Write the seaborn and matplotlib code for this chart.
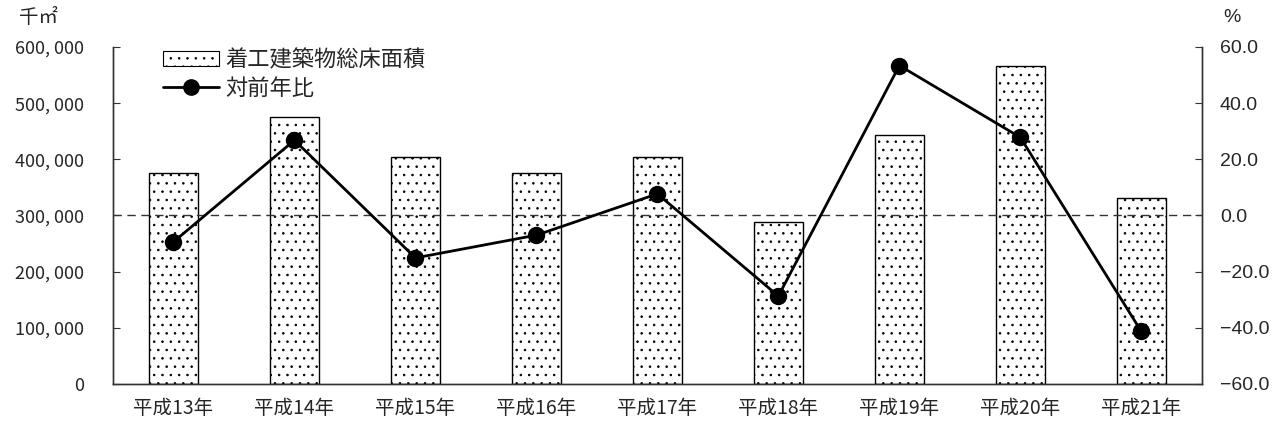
import numpy as np
import pandas as pd
import seaborn as sns
from matplotlib import pyplot as plt
from matplotlib.patches import Patch
from matplotlib.lines import Line2D
from matplotlib.ticker import FuncFormatter

years = ["平成13年", "平成14年", "平成15年", "平成16年", "平成17年",
         "平成18年", "平成19年", "平成20年", "平成21年"]
floor_area = [375000, 475000, 404000, 375500, 404500, 288500, 443500, 566000, 331000]
yoy = [-9.4, 26.8, -15.1, -7.0, 7.7, -28.7, 53.4, 27.8, -41.3]

sns.set_style("white")
plt.rcParams['font.family'] = ['Noto Sans CJK JP', 'DejaVu Sans']
plt.rcParams['hatch.linewidth'] = 0.6
plt.rcParams['hatch.color'] = '#666666'

df = pd.DataFrame({"year": years, "area": floor_area, "yoy": yoy})

fig = plt.figure(figsize=(12.78, 4.26), dpi=100)
ax = fig.add_axes([0.0884, 0.0986, 0.852, 0.7911])

sns.barplot(data=df, x="year", y="area", ax=ax, color="white", width=0.4,
            edgecolor="black", linewidth=1.0, hatch="..", saturation=1)
ax.set_ylim(0, 600000)
ax.set_yticks(np.arange(0, 600001, 100000))
ax.yaxis.set_major_formatter(FuncFormatter(lambda v, p: f"{int(v):,}".replace(",", ", ")))
ax.set_xlim(-0.5, len(years) - 0.5)
ax.set_xlabel("")
ax.set_ylabel("")

ax2 = ax.twinx()
ax2.axhline(0, color="#333333", linestyle=(0, (6, 4)), linewidth=1.0, zorder=1)
sns.pointplot(data=df, x="year", y="yoy", ax=ax2, color="black", markers="o",
              markersize=11, linewidth=2)
ax2.set_ylim(-60, 60)
ax2.set_yticks(np.arange(-60, 61, 20))
ax2.yaxis.set_major_formatter(FuncFormatter(lambda v, p: f"{v:.1f}".replace("-", "\u2212")))
ax2.set_xlim(-0.5, len(years) - 0.5)
ax2.set_xlabel("")
ax2.set_ylabel("")

for a in (ax, ax2):
    a.spines["top"].set_visible(False)
    for s in a.spines.values():
        s.set_color("#333333")
        s.set_linewidth(1.0)

ax.tick_params(axis="y", direction="in", length=5, labelsize=13, pad=21, color="#333333")
ax.tick_params(axis="x", length=0, labelsize=14, pad=10)
ax.set_xticks(np.arange(len(years)))
ax.set_xticklabels(years)
ax.set_xticks(np.arange(0.5, len(years) - 1, 1), minor=True)
ax.tick_params(axis="x", which="minor", direction="in", length=5, color="#333333")
ax2.tick_params(axis="y", direction="in", length=5, labelsize=14, pad=13, color="#333333")
for lab in ax2.get_yticklabels():
    lab.set_family(["Liberation Sans", "DejaVu Sans"])

fig.text(0.030, 0.96, "千㎡", fontsize=14, ha="center", va="center")
fig.text(0.964, 0.96, "%", fontsize=14, ha="center", va="center",
         family=["Liberation Sans", "DejaVu Sans"])

handles = [Patch(facecolor="white", edgecolor="black", hatch="..", linewidth=0.8),
           Line2D([0], [0], color="black", marker="o", markersize=11, linewidth=2)]
ax2.legend(handles, ["着工建築物総床面積", "対前年比"], loc="upper left",
           bbox_to_anchor=(0.028, 1.055), frameon=False, fontsize=16,
           handlelength=2.5, handletextpad=0.3, labelspacing=0.25)

fig.savefig("out.png", dpi=100)
